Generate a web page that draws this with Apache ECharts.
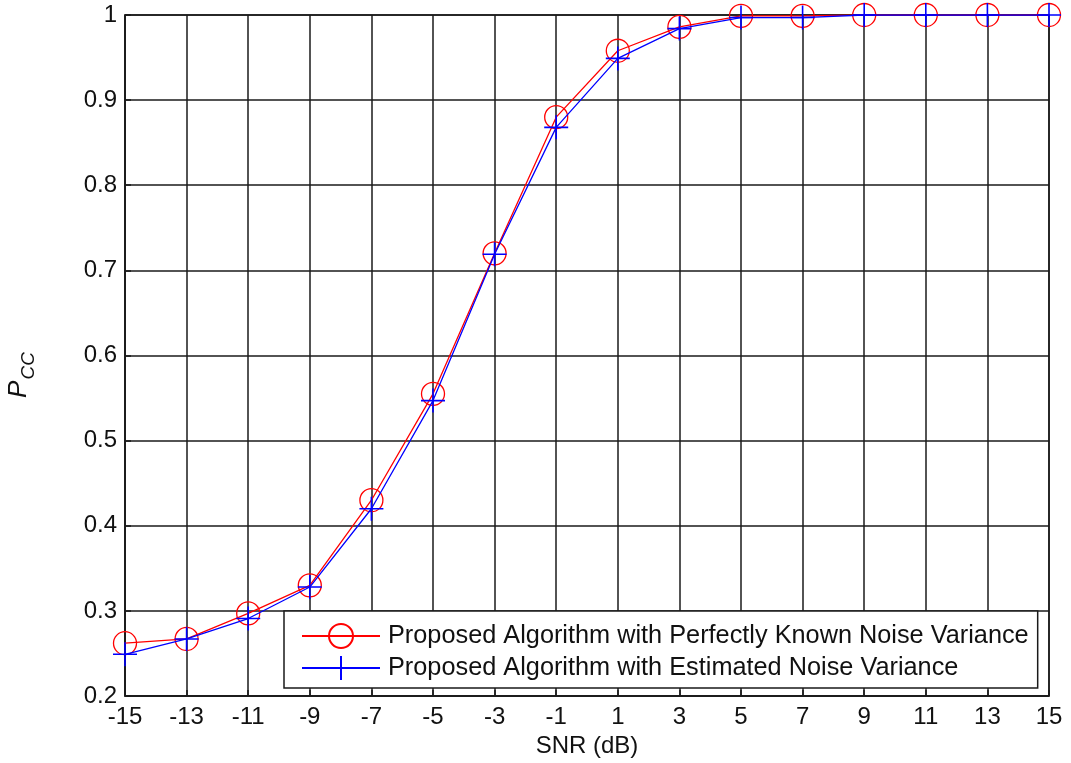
<!DOCTYPE html>
<html>
<head>
<meta charset="utf-8">
<script src="https://cdn.jsdelivr.net/npm/echarts@6/dist/echarts.min.js"></script>
<style>
  html, body { margin: 0; padding: 0; background: #fff; }
  #chart { width: 1071px; height: 763px; }
</style>
</head>
<body>
<div id="chart"></div>
<script>
// SNR points (dB) and correct-classification probability for each method
const snrLabels = ['-15', '-13', '-11', '-9', '-7', '-5', '-3', '-1', '1', '3', '5', '7', '9', '11', '13', '15'];
const pccKnownNoise = [0.262, 0.267, 0.297, 0.330, 0.430, 0.555, 0.720, 0.880, 0.958, 0.986, 0.999, 0.999, 1, 1, 1, 1];
const pccEstimatedNoise = [0.249, 0.267, 0.291, 0.328, 0.420, 0.547, 0.719, 0.868, 0.949, 0.984, 0.997, 0.997, 1, 1, 1, 1];
const seriesNames = [
  'Proposed Algorithm with Perfectly Known Noise Variance',
  'Proposed Algorithm with Estimated Noise Variance'
];

const FONT = '"Liberation Sans", Arial, sans-serif';
const GRID_COLOR = '#1a1a1a';

const chart = echarts.init(document.getElementById('chart'), null, { renderer: 'canvas' });

chart.setOption({
  animation: false,
  backgroundColor: '#fff',
  textStyle: { fontFamily: FONT },
  grid: {
    left: 125, right: 22, top: 15, bottom: 67,
    show: true, borderColor: GRID_COLOR, borderWidth: 1.5, backgroundColor: 'transparent'
  },
  legend: {
    orient: 'vertical',
    left: 284, top: 611,
    padding: [12, 9, 7, 17],
    itemGap: 6,
    itemWidth: 78,
    itemHeight: 30,
    backgroundColor: '#fff',
    borderColor: GRID_COLOR,
    borderWidth: 1.5,
    borderRadius: 0,
    textStyle: { fontFamily: FONT, fontSize: 25.3, color: '#111', padding: [0, 0, 0, 3] },
    data: seriesNames
  },
  xAxis: {
    type: 'category',
    data: snrLabels,
    boundaryGap: false,
    name: 'SNR (dB)',
    nameLocation: 'middle',
    nameGap: 38,
    nameTextStyle: { fontFamily: FONT, fontSize: 24, color: '#111' },
    axisLine: { show: true, lineStyle: { color: GRID_COLOR, width: 1.5 } },
    axisTick: { show: true, inside: true, length: 6, alignWithLabel: true, interval: 0, lineStyle: { color: GRID_COLOR, width: 1.5 } },
    axisLabel: { interval: 0, margin: 9, fontFamily: FONT, fontSize: 24, color: '#111' },
    splitLine: { show: true, interval: 0, lineStyle: { color: GRID_COLOR, width: 1.5 } }
  },
  yAxis: {
    type: 'value',
    min: 0.2, max: 1, interval: 0.1,
    axisLine: { show: true, lineStyle: { color: GRID_COLOR, width: 1.5 } },
    axisTick: { show: true, inside: true, length: 6, lineStyle: { color: GRID_COLOR, width: 1.5 } },
    axisLabel: {
      margin: 8, fontFamily: FONT, fontSize: 24, color: '#111',
      formatter: v => (Math.abs(v - 1) < 1e-9 ? '1' : v.toFixed(1))
    },
    splitLine: { show: true, lineStyle: { color: GRID_COLOR, width: 1.5 } }
  },
  graphic: [
    {
      // rotated y-axis title P_CC
      type: 'text',
      x: 22, y: 375,
      rotation: Math.PI / 2,
      style: {
        text: '{p|P}{s|CC}',
        align: 'center',
        verticalAlign: 'middle',
        rich: {
          p: { fontFamily: FONT, fontSize: 26, fontStyle: 'italic', fill: '#111', verticalAlign: 'bottom', padding: [0, 1, 7, 0] },
          s: { fontFamily: FONT, fontSize: 19, fontStyle: 'italic', fill: '#111', verticalAlign: 'bottom' }
        }
      }
    }
  ],
  series: [
    {
      name: seriesNames[0],
      type: 'line',
      data: pccKnownNoise,
      symbol: 'circle',
      symbolSize: 23,
      showAllSymbol: true,
      lineStyle: { color: '#ff0000', width: 1.3 },
      itemStyle: { color: 'rgba(255,255,255,0)', borderColor: '#ff0000', borderWidth: 1.3 },
      emphasis: { disabled: true },
      z: 3
    },
    {
      name: seriesNames[1],
      type: 'line',
      data: pccEstimatedNoise,
      symbol: 'path://M12,0L12,24M0,12L24,12',
      symbolSize: 24,
      showAllSymbol: true,
      lineStyle: { color: '#0000ff', width: 1.3 },
      itemStyle: { color: '#0000ff', borderColor: '#0000ff', borderWidth: 1.6 },
      emphasis: { disabled: true },
      z: 4
    }
  ]
});
</script>
</body>
</html>
